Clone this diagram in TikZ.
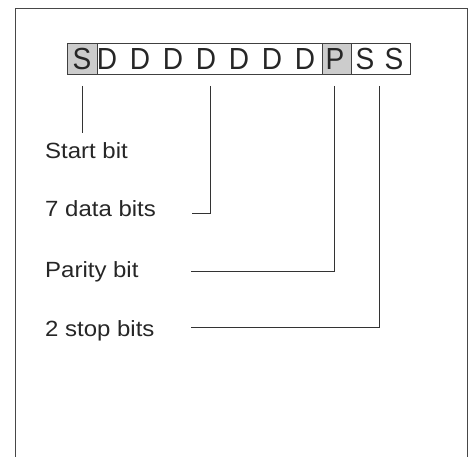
\documentclass[tikz,border=0pt]{standalone}
\usepackage{fontspec}
\setmainfont{Liberation Sans}[FakeStretch=1.09]
\newfontfamily\bitfont{Liberation Sans}[FakeStretch=0.92]
\begin{document}
\begin{tikzpicture}[x=1pt,y=-1pt,
  frame/.style={draw=black!72, line width=1pt},
  cellbox/.style={draw=black!75, line width=0.8pt, minimum height=31pt, inner sep=0pt, anchor=north west},
  hl/.style={fill=black!20},
  bitletter/.style={font=\bitfont\fontsize{30.5}{30}\selectfont, text=black!85, anchor=base, inner sep=0pt},
  lab/.style={font=\fontsize{22}{22}\selectfont, text=black!85, anchor=base west, inner sep=0pt},
  conn/.style={draw=black!80, line width=0.8pt}]
\useasboundingbox (0,0) rectangle (474,457);
\draw[frame] (15,457) -- (15,9) -- (467,9) -- (467,457);
% cells
\node[cellbox,hl,minimum width=30pt] (cS) at (67,43) {};
\node[cellbox,minimum width=225pt] (cD) at (97,43) {};
\node[cellbox,hl,minimum width=29pt] (cP) at (322,43) {};
\node[cellbox,minimum width=59pt] (cSS) at (351,43) {};
% letters
\node[bitletter] (l0) at (82,69.5) {S};
\foreach \i in {0,...,6}{
  \node[bitletter] (d\i) at ({107+33*\i},69.5) {D};
}
\node[bitletter] (lp) at (335,69.5) {P};
\node[bitletter] (s1) at (365,69.5) {S};
\node[bitletter] (s2) at (394,69.5) {S};
% labels
\node[lab] (lStart) at (45,159) {Start bit};
\node[lab] (lData) at (45,217) {7 data bits};
\node[lab] (lPar) at (45,277) {Parity bit};
\node[lab] (lStop) at (45,336) {2 stop bits};
% connector ends
\coordinate (e1) at (192,213);
\coordinate (e2) at (191,271);
\coordinate (e3) at (191,327);
% connectors
\draw[conn, shorten <=11pt, shorten >=10pt] (cS.south) -- (cS.south |- lStart.north);
\draw[conn, shorten <=11pt] (cD.south) |- (e1);
\draw[conn, shorten <=11pt] ([xshift=-3pt]cP.south) |- (e2);
\draw[conn, shorten <=11pt] ([xshift=-2pt]cSS.south) |- (e3);
\end{tikzpicture}
\end{document}
